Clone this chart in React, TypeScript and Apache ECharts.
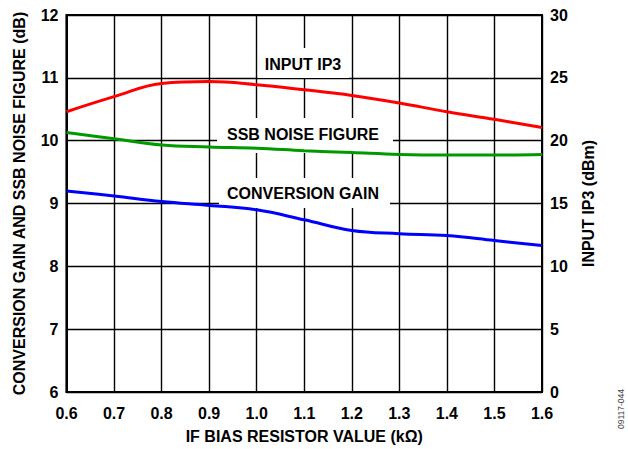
import React, { useEffect, useRef } from "react";
import * as echarts from "echarts";

const resistorK = [0.6, 0.7, 0.8, 0.9, 1.0, 1.1, 1.2, 1.3, 1.4, 1.5, 1.6];
const inputIP3 = [22.3, 23.5, 24.55, 24.7, 24.45, 24.05, 23.6, 23.0, 22.3, 21.7, 21.05];
const ssbNoiseFigure = [10.13, 10.03, 9.93, 9.9, 9.88, 9.84, 9.81, 9.78, 9.77, 9.77, 9.78];
const conversionGain = [9.2, 9.12, 9.03, 8.97, 8.9, 8.74, 8.57, 8.52, 8.49, 8.41, 8.33];

const FONT = "'Liberation Sans', Arial, sans-serif";
const FS = 16;

export default function App() {
  const ref = useRef<HTMLDivElement>(null);
  useEffect(() => {
    document.body.style.margin = "0";
    const chart = echarts.init(ref.current!, null, { renderer: "svg" });
    const pairs = (ys: number[]) => resistorK.map((x, i) => [x, ys[i]]);
    const labelStyle = { fontFamily: FONT, fontWeight: "bold" as const, fontSize: FS, fill: "#000" };
    const txt = { color: "#000", fontFamily: FONT, fontWeight: "bold", fontSize: FS };
    chart.setOption({
      animation: false,
      backgroundColor: "#fff",
      grid: {
        left: 66.5, right: 86, top: 15, bottom: 55,
        show: true, borderColor: "#000", borderWidth: 2, backgroundColor: "transparent",
      },
      xAxis: {
        type: "value", min: 0.6, max: 1.6, interval: 0.1,
        axisLine: { show: true, lineStyle: { color: "#000", width: 2 } },
        axisTick: { show: false },
        axisLabel: { ...txt, margin: 13, formatter: (v: number) => v.toFixed(1) },
        splitLine: { show: true, lineStyle: { color: "#000", width: 1.4 } },
        name: "IF BIAS RESISTOR VALUE (kΩ)",
        nameLocation: "middle", nameGap: 36,
        nameTextStyle: txt,
      },
      yAxis: [
        {
          type: "value", min: 6, max: 12, interval: 1, position: "left",
          axisLine: { show: true, lineStyle: { color: "#000", width: 2 } },
          axisTick: { show: false },
          axisLabel: { ...txt, margin: 8 },
          splitLine: { show: true, lineStyle: { color: "#000", width: 1.4 } },
          name: "CONVERSION GAIN AND SSB NOISE FIGURE (dB)",
          nameLocation: "middle", nameGap: 39,
          nameTextStyle: txt,
        },
        {
          type: "value", min: 0, max: 30, interval: 5, position: "right",
          axisLine: { show: true, lineStyle: { color: "#000", width: 2 } },
          axisTick: { show: false },
          axisLabel: { ...txt, margin: 8 },
          splitLine: { show: false },
          name: "INPUT IP3 (dBm)",
          nameLocation: "middle", nameGap: 38, nameRotate: 90,
          nameTextStyle: txt,
        },
      ],
      graphic: [
        { type: "rect", z: 1, shape: { x: 258, y: 48, width: 91, height: 30 }, style: { fill: "#fff" } },
        { type: "rect", z: 1, shape: { x: 217, y: 118, width: 176, height: 35 }, style: { fill: "#fff" } },
        { type: "rect", z: 1, shape: { x: 219, y: 178, width: 171, height: 30 }, style: { fill: "#fff" } },
        { type: "text", z: 3, x: 303, y: 64, style: { ...labelStyle, text: "INPUT IP3", align: "center", verticalAlign: "middle" } },
        { type: "text", z: 3, x: 303, y: 134, style: { ...labelStyle, text: "SSB NOISE FIGURE", align: "center", verticalAlign: "middle" } },
        { type: "text", z: 3, x: 303, y: 193, style: { ...labelStyle, text: "CONVERSION GAIN", align: "center", verticalAlign: "middle" } },
        {
          type: "text", z: 3, x: 621, y: 409, rotation: Math.PI / 2,
          style: { text: "09117-044", fontFamily: FONT, fontSize: 8.5, fill: "#444", align: "center", verticalAlign: "middle" },
        },
      ],
      series: [
        {
          name: "INPUT IP3", type: "line", yAxisIndex: 1, smooth: 0.4, symbol: "none", z: 2,
          lineStyle: { color: "#ff0000", width: 3 }, data: pairs(inputIP3),
        },
        {
          name: "SSB NOISE FIGURE", type: "line", yAxisIndex: 0, smooth: 0.4, symbol: "none", z: 2,
          lineStyle: { color: "#009900", width: 3 }, data: pairs(ssbNoiseFigure),
        },
        {
          name: "CONVERSION GAIN", type: "line", yAxisIndex: 0, smooth: 0.4, symbol: "none", z: 2,
          lineStyle: { color: "#0000ff", width: 3 }, data: pairs(conversionGain),
        },
      ],
    });
    return () => chart.dispose();
  }, []);
  return <div ref={ref} style={{ width: 628, height: 449 }} />;
}
